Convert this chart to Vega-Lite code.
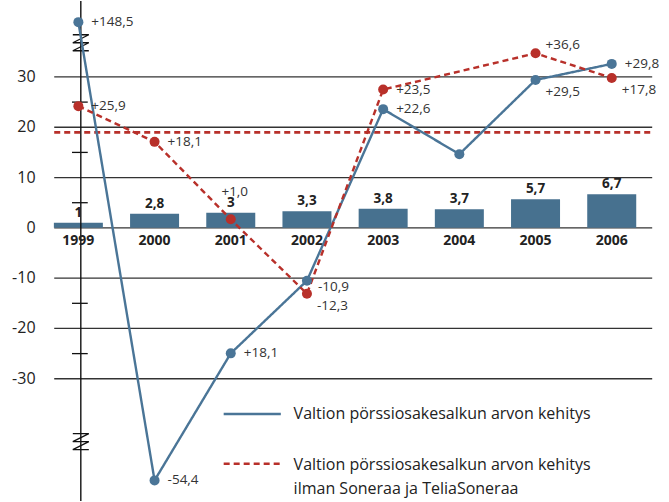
{
  "$schema": "https://vega.github.io/schema/vega-lite/v6.json",
  "width": 669,
  "height": 502,
  "autosize": {"type": "fit", "contains": "padding"},
  "padding": 0,
  "background": "white",
  "config": {"view": {"stroke": null}, "font": "Open Sans", "text": {"font": "Open Sans"}},
  "datasets": {
    "bars": [
      {"year": 1999, "value": 1, "label": "1"},
      {"year": 2000, "value": 2.8, "label": "2,8"},
      {"year": 2001, "value": 3, "label": "3"},
      {"year": 2002, "value": 3.3, "label": "3,3"},
      {"year": 2003, "value": 3.8, "label": "3,8"},
      {"year": 2004, "value": 3.7, "label": "3,7"},
      {"year": 2005, "value": 5.7, "label": "5,7"},
      {"year": 2006, "value": 6.7, "label": "6,7"}
    ],
    "lines": [
      {"s": "A", "year": 1999, "v": 40.9, "label": "+148,5"},
      {"s": "A", "year": 2000, "v": -50.2, "label": "-54,4"},
      {"s": "A", "year": 2001, "v": -24.95, "label": "+18,1"},
      {"s": "A", "year": 2002, "v": -10.5, "label": "-10,9"},
      {"s": "A", "year": 2003, "v": 23.6, "label": "+22,6"},
      {"s": "A", "year": 2004, "v": 14.65, "label": ""},
      {"s": "A", "year": 2005, "v": 29.4, "label": "+29,5"},
      {"s": "A", "year": 2006, "v": 32.6, "label": "+29,8"},
      {"s": "B", "year": 1999, "v": 24.2, "label": "+25,9"},
      {"s": "B", "year": 2000, "v": 17.1, "label": "+18,1"},
      {"s": "B", "year": 2001, "v": 1.7, "label": "+1,0"},
      {"s": "B", "year": 2002, "v": -13.1, "label": "-12,3"},
      {"s": "B", "year": 2003, "v": 27.5, "label": "+23,5"},
      {"s": "B", "year": 2005, "v": 34.7, "label": "+36,6"},
      {"s": "B", "year": 2006, "v": 29.8, "label": "+17,8"}
    ],
    "grid": [{"v": 30}, {"v": 20}, {"v": 10}, {"v": 0}, {"v": -10}, {"v": -20}, {"v": -30}],
    "minor": [{"v": 25}, {"v": 15}, {"v": 5}, {"v": -15}, {"v": -25}],
    "breaks": [{"v": 36.8}, {"v": -42.5}],
    "ref": [{"v": 19}],
    "one": [{}]
  },
  "layer": [
    {
      "data": {"name": "grid"},
      "mark": {"type": "rule", "color": "#333333", "strokeWidth": 1.3},
      "encoding": {
        "x": {"datum": 1998.683, "type": "quantitative", "scale": {"domain": [1998.037, 2006.686], "nice": false, "zero": false}, "axis": null},
        "x2": {"datum": 2006.531},
        "y": {"field": "v", "type": "quantitative", "scale": {"domain": [-54.3, 45.1], "nice": false, "zero": false}, "axis": null}
      }
    },
    {
      "data": {"name": "ref"},
      "mark": {"type": "rule", "color": "#b8302a", "strokeWidth": 2.8, "strokeDash": [6, 4]},
      "encoding": {
        "x": {"datum": 1998.683, "type": "quantitative", "scale": {"domain": [1998.037, 2006.686], "nice": false, "zero": false}, "axis": null},
        "x2": {"datum": 2006.531},
        "y": {"field": "v", "type": "quantitative", "scale": {"domain": [-54.3, 45.1], "nice": false, "zero": false}, "axis": null}
      }
    },
    {
      "data": {"name": "bars"},
      "mark": {"type": "bar", "width": 49, "color": "#47718f"},
      "encoding": {
        "x": {"field": "year", "type": "quantitative", "scale": {"domain": [1998.037, 2006.686], "nice": false, "zero": false}, "axis": null},
        "y": {"field": "value", "type": "quantitative", "stack": null, "scale": {"domain": [-54.3, 45.1], "nice": false, "zero": false}, "axis": null}
      }
    },
    {
      "data": {"name": "ref"},
      "mark": {"type": "rule", "color": "#111111", "strokeWidth": 1.4},
      "encoding": {
        "x": {"datum": 1999.032, "type": "quantitative", "scale": {"domain": [1998.037, 2006.686], "nice": false, "zero": false}, "axis": null}
      }
    },
    {
      "data": {"name": "minor"},
      "mark": {"type": "rule", "color": "#111111", "strokeWidth": 1.3},
      "encoding": {
        "x": {"datum": 1998.916, "type": "quantitative", "scale": {"domain": [1998.037, 2006.686], "nice": false, "zero": false}, "axis": null},
        "x2": {"datum": 1999.123},
        "y": {"field": "v", "type": "quantitative", "scale": {"domain": [-54.3, 45.1], "nice": false, "zero": false}, "axis": null}
      }
    },
    {
      "data": {"name": "breaks"},
      "mark": {"type": "point", "shape": "M-1,-1L1,-1L-1,0L1,0L-1,1L1,1", "filled": false, "size": 256, "stroke": "#111111", "strokeWidth": 1.3, "opacity": 1},
      "encoding": {
        "x": {"datum": 1999.032, "type": "quantitative", "scale": {"domain": [1998.037, 2006.686], "nice": false, "zero": false}, "axis": null},
        "y": {"field": "v", "type": "quantitative", "scale": {"domain": [-54.3, 45.1], "nice": false, "zero": false}, "axis": null}
      }
    },
    {
      "data": {"name": "grid"},
      "mark": {"type": "text", "align": "right", "baseline": "middle", "fontSize": 16, "color": "#222222"},
      "encoding": {
        "x": {"datum": 1998.438, "type": "quantitative", "scale": {"domain": [1998.037, 2006.686], "nice": false, "zero": false}, "axis": null},
        "y": {"field": "v", "type": "quantitative", "scale": {"domain": [-54.3, 45.1], "nice": false, "zero": false}, "axis": null},
        "text": {"field": "v", "type": "nominal"}
      }
    },
    {
      "data": {"name": "bars"},
      "mark": {"type": "text", "align": "center", "baseline": "middle", "fontSize": 14, "fontWeight": "bold", "color": "#222222"},
      "encoding": {
        "x": {"field": "year", "type": "quantitative", "scale": {"domain": [1998.037, 2006.686], "nice": false, "zero": false}, "axis": null},
        "y": {"datum": -2.6, "type": "quantitative", "scale": {"domain": [-54.3, 45.1], "nice": false, "zero": false}, "axis": null},
        "text": {"field": "year", "type": "nominal"}
      }
    },
    {
      "data": {"name": "bars"},
      "mark": {"type": "text", "align": "center", "baseline": "bottom", "dy": -3, "fontSize": 13.5, "fontWeight": "bold", "color": "#222222"},
      "encoding": {
        "x": {"field": "year", "type": "quantitative", "scale": {"domain": [1998.037, 2006.686], "nice": false, "zero": false}, "axis": null},
        "y": {"field": "value", "type": "quantitative", "scale": {"domain": [-54.3, 45.1], "nice": false, "zero": false}, "axis": null},
        "text": {"field": "label", "type": "nominal"}
      }
    },
    {
      "data": {"name": "lines"},
      "mark": {"type": "line", "strokeWidth": 2.4},
      "encoding": {
        "x": {"field": "year", "type": "quantitative", "scale": {"domain": [1998.037, 2006.686], "nice": false, "zero": false}, "axis": null},
        "y": {"field": "v", "type": "quantitative", "scale": {"domain": [-54.3, 45.1], "nice": false, "zero": false}, "axis": null},
        "color": {"field": "s", "type": "nominal", "scale": {"domain": ["A", "B"], "range": ["#4a7597", "#b8302a"]}, "legend": null},
        "strokeDash": {"field": "s", "type": "nominal", "scale": {"domain": ["A", "B"], "range": [[1, 0], [6, 4]]}, "legend": null}
      }
    },
    {
      "data": {"name": "lines"},
      "mark": {"type": "point", "filled": true, "size": 100, "opacity": 1},
      "encoding": {
        "x": {"field": "year", "type": "quantitative", "scale": {"domain": [1998.037, 2006.686], "nice": false, "zero": false}, "axis": null},
        "y": {"field": "v", "type": "quantitative", "scale": {"domain": [-54.3, 45.1], "nice": false, "zero": false}, "axis": null},
        "color": {"field": "s", "type": "nominal", "scale": {"domain": ["A", "B"], "range": ["#4a7597", "#b8302a"]}, "legend": null}
      }
    },
    {
      "data": {"name": "lines"},
      "transform": [{"filter": "(datum.s == 'A' && indexof([1999, 2000, 2001, 2003, 2006], datum.year) >= 0) || (datum.s == 'B' && indexof([1999, 2000, 2003], datum.year) >= 0)"}],
      "mark": {"type": "text", "align": "left", "baseline": "middle", "dx": 13, "fontSize": 13.5, "color": "#333333"},
      "encoding": {
        "x": {"field": "year", "type": "quantitative", "scale": {"domain": [1998.037, 2006.686], "nice": false, "zero": false}, "axis": null},
        "y": {"field": "v", "type": "quantitative", "scale": {"domain": [-54.3, 45.1], "nice": false, "zero": false}, "axis": null},
        "text": {"field": "label", "type": "nominal"}
      }
    },
    {
      "data": {"name": "lines"},
      "transform": [{"filter": "(datum.s == 'A' && datum.year == 2005) || (datum.s == 'B' && indexof([2002, 2006], datum.year) >= 0)"}],
      "mark": {"type": "text", "align": "left", "baseline": "middle", "dx": 10, "dy": 12, "fontSize": 13.5, "color": "#333333"},
      "encoding": {
        "x": {"field": "year", "type": "quantitative", "scale": {"domain": [1998.037, 2006.686], "nice": false, "zero": false}, "axis": null},
        "y": {"field": "v", "type": "quantitative", "scale": {"domain": [-54.3, 45.1], "nice": false, "zero": false}, "axis": null},
        "text": {"field": "label", "type": "nominal"}
      }
    },
    {
      "data": {"name": "lines"},
      "transform": [{"filter": "datum.s == 'A' && datum.year == 2002"}],
      "mark": {"type": "text", "align": "left", "baseline": "middle", "dx": 11, "dy": 6, "fontSize": 13.5, "color": "#333333"},
      "encoding": {
        "x": {"field": "year", "type": "quantitative", "scale": {"domain": [1998.037, 2006.686], "nice": false, "zero": false}, "axis": null},
        "y": {"field": "v", "type": "quantitative", "scale": {"domain": [-54.3, 45.1], "nice": false, "zero": false}, "axis": null},
        "text": {"field": "label", "type": "nominal"}
      }
    },
    {
      "data": {"name": "lines"},
      "transform": [{"filter": "datum.s == 'B' && datum.year == 2005"}],
      "mark": {"type": "text", "align": "left", "baseline": "middle", "dx": 10, "dy": -8, "fontSize": 13.5, "color": "#333333"},
      "encoding": {
        "x": {"field": "year", "type": "quantitative", "scale": {"domain": [1998.037, 2006.686], "nice": false, "zero": false}, "axis": null},
        "y": {"field": "v", "type": "quantitative", "scale": {"domain": [-54.3, 45.1], "nice": false, "zero": false}, "axis": null},
        "text": {"field": "label", "type": "nominal"}
      }
    },
    {
      "data": {"name": "lines"},
      "transform": [{"filter": "datum.s == 'B' && datum.year == 2001"}],
      "mark": {"type": "text", "align": "center", "baseline": "middle", "dx": 4, "dy": -27, "fontSize": 13.5, "color": "#333333"},
      "encoding": {
        "x": {"field": "year", "type": "quantitative", "scale": {"domain": [1998.037, 2006.686], "nice": false, "zero": false}, "axis": null},
        "y": {"field": "v", "type": "quantitative", "scale": {"domain": [-54.3, 45.1], "nice": false, "zero": false}, "axis": null},
        "text": {"field": "label", "type": "nominal"}
      }
    },
    {
      "data": {"name": "one"},
      "mark": {"type": "rule", "color": "#4a7597", "strokeWidth": 2.5},
      "encoding": {
        "x": {"datum": 2000.907, "type": "quantitative", "scale": {"domain": [1998.037, 2006.686], "nice": false, "zero": false}, "axis": null},
        "x2": {"datum": 2001.657},
        "y": {"datum": -37.0, "type": "quantitative", "scale": {"domain": [-54.3, 45.1], "nice": false, "zero": false}, "axis": null}
      }
    },
    {
      "data": {"name": "one"},
      "mark": {"type": "rule", "color": "#b8302a", "strokeWidth": 2.5, "strokeDash": [6, 4]},
      "encoding": {
        "x": {"datum": 2000.907, "type": "quantitative", "scale": {"domain": [1998.037, 2006.686], "nice": false, "zero": false}, "axis": null},
        "x2": {"datum": 2001.657},
        "y": {"datum": -46.9, "type": "quantitative", "scale": {"domain": [-54.3, 45.1], "nice": false, "zero": false}, "axis": null}
      }
    },
    {
      "data": {"name": "one"},
      "mark": {"type": "text", "align": "left", "baseline": "middle", "fontSize": 16, "color": "#222222", "text": "Valtion pörssiosakesalkun arvon kehitys"},
      "encoding": {
        "x": {"datum": 2001.825, "type": "quantitative", "scale": {"domain": [1998.037, 2006.686], "nice": false, "zero": false}, "axis": null},
        "y": {"datum": -37.0, "type": "quantitative", "scale": {"domain": [-54.3, 45.1], "nice": false, "zero": false}, "axis": null}
      }
    },
    {
      "data": {"name": "one"},
      "mark": {"type": "text", "align": "left", "baseline": "alphabetic", "dy": 6, "lineHeight": 24, "fontSize": 16, "color": "#222222", "text": ["Valtion pörssiosakesalkun arvon kehitys", "ilman Soneraa ja TeliaSoneraa"]},
      "encoding": {
        "x": {"datum": 2001.825, "type": "quantitative", "scale": {"domain": [1998.037, 2006.686], "nice": false, "zero": false}, "axis": null},
        "y": {"datum": -46.9, "type": "quantitative", "scale": {"domain": [-54.3, 45.1], "nice": false, "zero": false}, "axis": null}
      }
    }
  ]
}
